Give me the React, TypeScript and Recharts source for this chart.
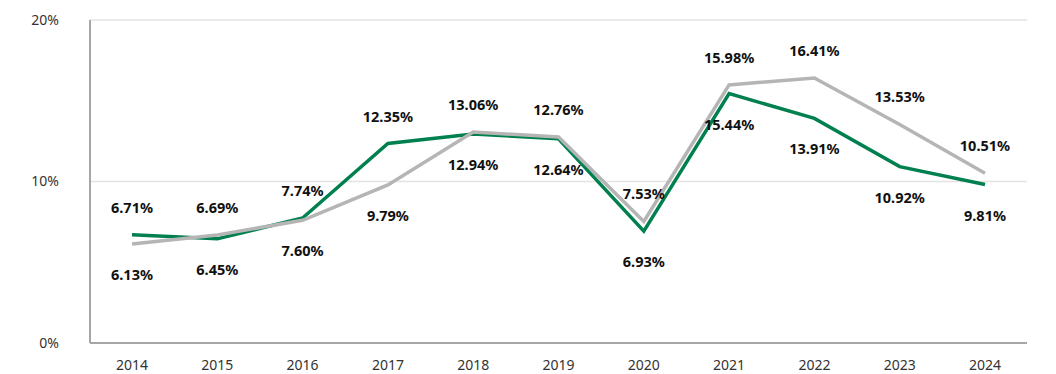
import React from 'react';
import { LineChart, Line, XAxis, YAxis, CartesianGrid } from 'recharts';

const years = ['2014', '2015', '2016', '2017', '2018', '2019', '2020', '2021', '2022', '2023', '2024'];
const greenSeries = [6.71, 6.45, 7.74, 12.35, 12.94, 12.64, 6.93, 15.44, 13.91, 10.92, 9.81];
const graySeries = [6.13, 6.69, 7.6, 9.79, 13.06, 12.76, 7.53, 15.98, 16.41, 13.53, 10.51];
const yTicks = [0, 10, 20];

const data = years.map((y, i) => ({ year: y, green: greenSeries[i], gray: graySeries[i] }));

const FONT = '"Noto Sans", "Open Sans", sans-serif';

const makeLabel = (own: number[], other: number[]) => (props: any) => {
  const { x, y, index } = props;
  const above = own[index] >= other[index];
  const ty = above ? y - 28 : y + 30;
  return (
    <text
      key={`l-${index}-${own[index]}`}
      x={x}
      y={ty}
      textAnchor="middle"
      dominantBaseline="central"
      fontFamily={FONT}
      fontWeight={700}
      fontSize={14.5}
      fill="#111"
    >
      {own[index].toFixed(2) + '%'}
    </text>
  );
};

export default function App() {
  return (
    <div style={{ position: 'absolute', left: 0, top: 0, width: 1056, height: 374, background: '#fff' }}>
      <LineChart width={1056} height={374} data={data} margin={{ top: 20, right: 29, bottom: 1, left: 0 }}>
        <CartesianGrid vertical={false} stroke="#e3e3e3" strokeWidth={1.5} />
        <XAxis
          dataKey="year"
          height={30}
          padding={{ left: 42, right: 42 }}
          axisLine={{ stroke: '#a6a6a6', strokeWidth: 2 }}
          tickLine={false}
          tickMargin={11}
          tick={{ fill: '#333', fontSize: 14, fontFamily: FONT }}
        />
        <YAxis
          width={90}
          domain={[0, 20]}
          ticks={yTicks}
          tickFormatter={(v: number) => v + '%'}
          axisLine={{ stroke: '#a6a6a6', strokeWidth: 2 }}
          tickLine={false}
          tickMargin={25}
          tick={{ fill: '#333', fontSize: 14, fontFamily: FONT }}
        />
        <Line
          type="linear"
          dataKey="green"
          stroke="#00804f"
          strokeWidth={3.5}
          dot={false}
          activeDot={false}
          isAnimationActive={false}
          label={makeLabel(greenSeries, graySeries)}
        />
        <Line
          type="linear"
          dataKey="gray"
          stroke="#b5b5b5"
          strokeWidth={3.5}
          dot={false}
          activeDot={false}
          isAnimationActive={false}
          label={makeLabel(graySeries, greenSeries)}
        />
      </LineChart>
    </div>
  );
}
